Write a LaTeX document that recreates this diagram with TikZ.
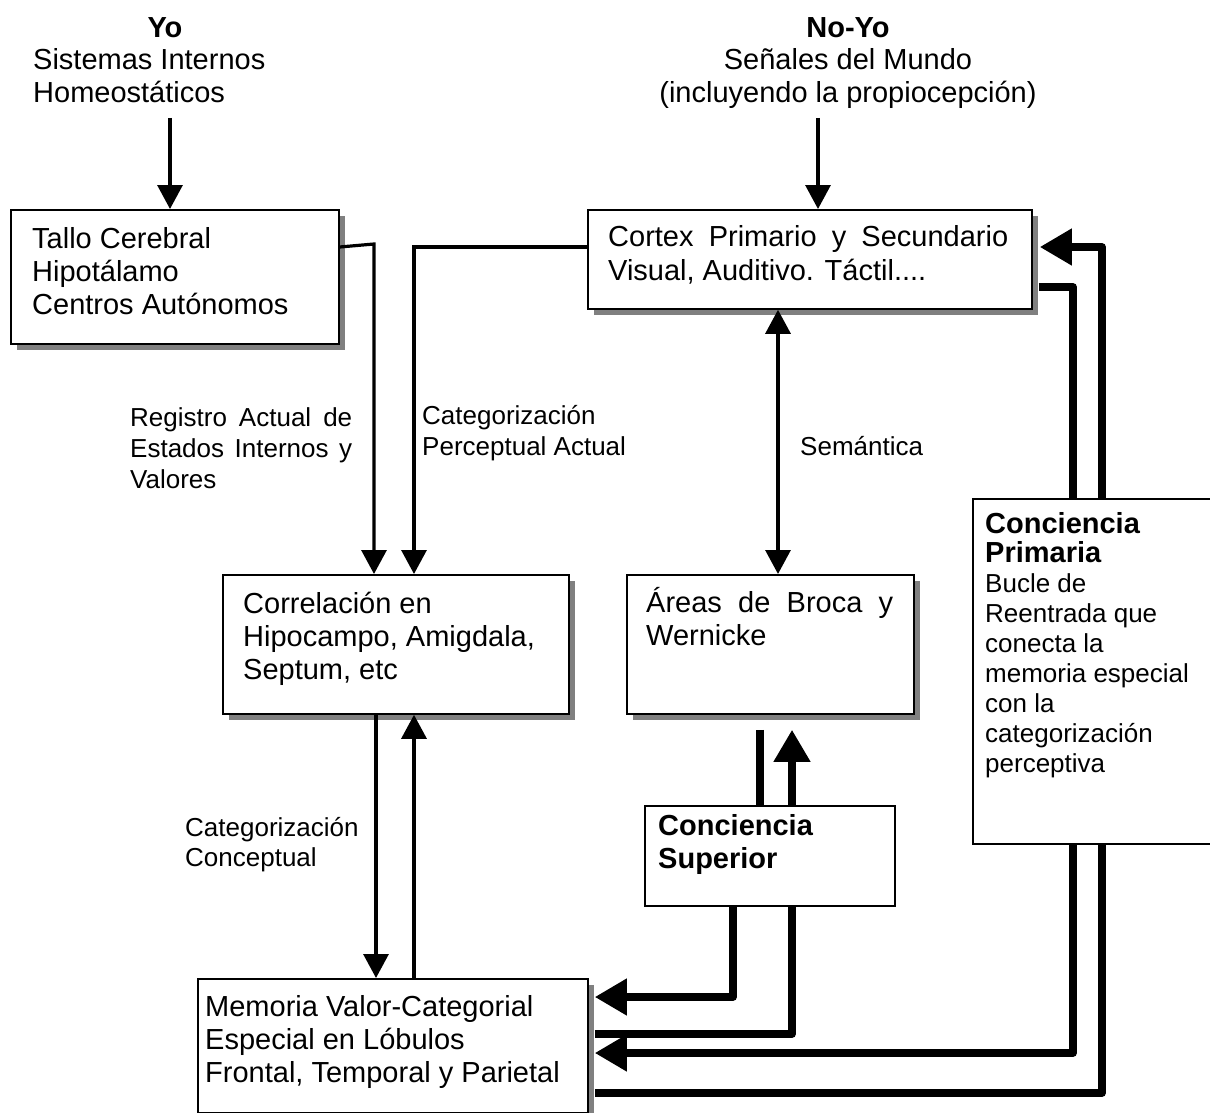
\documentclass[tikz,border=0pt]{standalone}
\usepackage{fontspec}
\setmainfont{Liberation Sans}
\usetikzlibrary{arrows.meta,shadows}
\newcommand{\tstr}{\rule{0pt}{1em}}
\begin{document}
\begin{tikzpicture}[x=1pt,y=-1pt,
  boxs/.style={draw,line width=1.8pt,fill=white,anchor=north west,inner sep=0pt,
     drop shadow={shadow xshift=6pt,shadow yshift=-6pt,opacity=1,fill=black!50}},
  plainbox/.style={draw,line width=1.5pt,fill=white,anchor=north west,inner sep=0pt},
  txt/.style={anchor=north west,inner sep=0pt,align=left,font=\fontsize{29}{33}\selectfont},
  lbl/.style={anchor=north west,inner sep=0pt,align=left,font=\fontsize{26}{31}\selectfont},
  thinarr/.style={line width=3.2pt,-{Triangle[length=24pt,width=25pt]}},
  thickarr/.style={line width=7.5pt,line join=round,-{Triangle[length=32pt,width=35pt]}},
  thickln/.style={line width=7.5pt,line join=round},
]
\useasboundingbox (0,0) rectangle (1210,1113);

% titles
\node[anchor=base,inner sep=0pt,font=\fontsize{29}{33}\selectfont\bfseries] (yo) at (165,38) {Yo};
\node[txt] (yotx) at (33,40) {\tstr Sistemas Internos\\Homeostáticos};
\node[anchor=base,inner sep=0pt,font=\fontsize{29}{33}\selectfont\bfseries] (noyo) at (848,38) {No-Yo};
\node[txt,anchor=north,align=center] (noyotx) at (848,40) {\tstr Señales del Mundo\\(incluyendo la propiocepción)};

% boxes with shadow
\node[boxs,minimum width=328pt,minimum height=134pt] (tallo) at (10,209) {};
\node[boxs,minimum width=444pt,minimum height=99pt] (cortex) at (587,209) {};
\node[boxs,minimum width=346pt,minimum height=139pt] (corr) at (222,574) {};
\node[boxs,minimum width=287pt,minimum height=139pt] (broca) at (626,574) {};
\node[boxs,minimum width=390pt,minimum height=134pt] (mem) at (197,978) {};

% box texts
\node[txt] (tallotx) at (32,219) {\tstr Tallo Cerebral\\Hipotálamo\\Centros Autónomos};
\node[txt,font=\fontsize{29}{34}\selectfont] (cortextx) at (608,217) {\tstr\hbox to 400pt{Cortex\hfill Primario\hfill y\hfill Secundario}\\Visual, Auditivo. Táctil....};
\node[txt] (corrtx) at (243,584) {\tstr Correlación en\\Hipocampo, Amigdala,\\Septum, etc};
\node[txt] (brocatx) at (646,583) {\tstr\hbox to 247pt{Áreas\hfill de\hfill Broca\hfill y}\\Wernicke};
\node[txt] (memtx) at (205,987) {\tstr Memoria Valor-Categorial\\Especial en Lóbulos\\Frontal, Temporal y Parietal};

% labels
\node[lbl] (regl) at (130,400) {\tstr\hbox to 222pt{Registro\hfill Actual\hfill de}\\\hbox to 222pt{Estados\hfill Internos\hfill y}\\Valores};
\node[lbl] (percl) at (422,398) {\tstr Categorización\\Perceptual Actual};
\node[anchor=base west,inner sep=0pt,font=\fontsize{26}{31}\selectfont] (seml) at (800,455) {Semántica};
\node[lbl,font=\fontsize{26}{30}\selectfont] (concl) at (185,810) {\tstr Categorización\\Conceptual};

% helper coordinates
\coordinate (yo0) at (170,118);
\coordinate (ny0) at (818,118);
\coordinate (tj) at (374,244);
\coordinate (cj) at (414,247);
\coordinate (dn) at (376,0);
\coordinate (up) at (414,0);
\coordinate (sm) at (778,0);
\coordinate (s1t) at (760,850);
\coordinate (s1m) at (733,850);
\coordinate (s1) at (733,997);
\coordinate (s2) at (792,1034);
\coordinate (r1) at (1073,287);
\coordinate (r1b) at (1073,1053);
\coordinate (r2) at (1102,1093);
\coordinate (r2t) at (1102,247);

% thin connectors
\draw[thinarr] (yo0) -- (tallo.north -| yo0);
\draw[thinarr] (ny0) -- (cortex.north -| ny0);
\draw[thinarr] (tallo.east |- cj) -- (tj) -- (corr.north -| tj);
\draw[thinarr] (cortex.west |- cj) -- (cj) -- (corr.north -| cj);
\draw[thinarr] (corr.south -| dn) -- (mem.north -| dn);
\draw[thinarr] (mem.north -| up) -- (corr.south -| up);
\draw[thinarr,{Triangle[length=24pt,width=25pt]}-{Triangle[length=24pt,width=25pt]}] (cortex.south -| sm) -- (broca.north -| sm);

% thick connectors
\draw[thickarr] ([yshift=-15pt]broca.south -| s1t) -- (s1t) -- (s1m) -- (s1) -- ([xshift=6pt]mem.east |- s1);
\draw[thickarr] ([xshift=6pt]mem.east |- s2) -- (s2) -- ([yshift=-15pt]broca.south -| s2);
\draw[thickarr] ([xshift=6pt]cortex.east |- r1) -- (r1) -- (r1b) -- ([xshift=6pt]mem.east |- r1b);
\draw[thickarr] ([xshift=6pt]mem.east |- r2) -- (r2) -- (r2t) -- ([xshift=7pt]cortex.east |- r2t);

% consciousness boxes (over the lines)
\node[plainbox,minimum width=250pt,minimum height=100pt] (sup) at (644,805) {};
\node[txt,font=\fontsize{29}{33}\selectfont\bfseries] (suptx) at (658,806) {\tstr Conciencia\\Superior};
\node[plainbox,minimum width=250pt,minimum height=345pt] (prim) at (972,498) {};
\node[txt,font=\fontsize{29}{29}\selectfont\bfseries] (primtt) at (985,504) {\tstr Conciencia\\Primaria};
\node[lbl,font=\fontsize{26}{30}\selectfont] (primbd) at (985,566) {\tstr Bucle de\\Reentrada que\\conecta la\\memoria especial\\con la\\categorización\\perceptiva};
\end{tikzpicture}
\end{document}
